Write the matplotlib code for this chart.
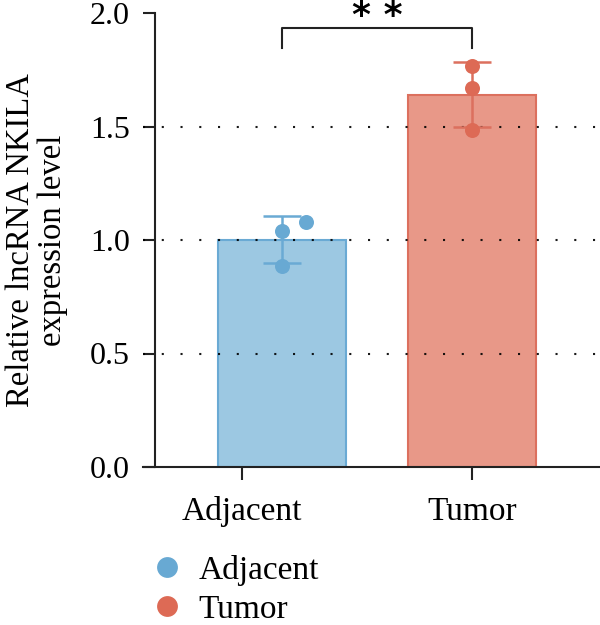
import matplotlib
matplotlib.use("Agg")
import matplotlib.pyplot as plt
from matplotlib.lines import Line2D
import numpy as np

categories = ["Adjacent", "Tumor"]
adjacent_points = [1.08, 1.04, 0.885]
tumor_points = [1.767, 1.67, 1.485]
means = [np.mean(adjacent_points), np.mean(tumor_points)]
sds = [np.std(adjacent_points, ddof=1), np.std(tumor_points, ddof=1)]
yticks = [0.0, 0.5, 1.0, 1.5, 2.0]
ylabel = "Relative lncRNA NKILA\nexpression level"
sig_label = "* *"

fills = ["#9cc8e2", "#e89888"]
edges = ["#6aaad4", "#dc705e"]
pts_colors = ["#68a9d3", "#dd6a55"]

plt.rcParams["font.family"] = ["Liberation Serif", "DejaVu Serif"]

fig = plt.figure(figsize=(6, 6.25), dpi=100)
ax = fig.add_axes([0.238, 0.2528, 0.762, 0.7264])

x = np.arange(len(categories))
ax.bar(x, means, width=0.674, color=fills, edgecolor=edges, linewidth=1.5, zorder=2)
for i, (m, s) in enumerate(zip(means, sds)):
    ax.errorbar(x[i], m, yerr=s, color=edges[i], lw=1.8, capsize=13.5, capthick=1.8, zorder=3)
pts = [adjacent_points, tumor_points]
offsets = [[0.125, 0, 0], [0, 0, 0]]
for i, p in enumerate(pts):
    ax.plot(np.array(offsets[i]) + x[i], p, "o", color=pts_colors[i], ms=10.8, mec="none", zorder=4)

for yv in yticks[1:-1]:
    ax.axhline(yv, color="black", lw=1.5, ls=(0, (1, 8)), zorder=2.5, alpha=0.9)

ax.set_ylim(0, 2.0)
ax.set_xlim(-0.7316, 1.674)
ax.set_yticks(yticks)
ax.set_yticklabels([f"{v:.1f}" for v in yticks])
ax.set_xticks([x[0] - 0.21, x[1]])
ax.set_xticklabels(categories)
ax.spines["top"].set_visible(False)
ax.spines["right"].set_visible(False)
ax.spines["left"].set_position(("data", -0.668))
for sp in ["left", "bottom"]:
    ax.spines[sp].set_linewidth(1.5)
    ax.spines[sp].set_color("#222222")
ax.tick_params(axis="both", length=9, width=1.5, color="#222222")
ax.tick_params(axis="y", pad=9, labelsize=23)
ax.tick_params(axis="x", pad=12, labelsize=24)
ax.set_ylabel(ylabel, fontsize=23.5, labelpad=16, linespacing=1.05)

# significance bracket
ax.plot([x[0], x[0], x[1], x[1]], [1.846, 1.934, 1.934, 1.846], color="#222222", lw=1.5, clip_on=False)
ax.text((x[0] + x[1]) / 2, 1.985, sig_label, ha="center", va="center", fontsize=26,
        fontweight="bold", family="DejaVu Sans", clip_on=False)

handles = [Line2D([], [], marker="o", ls="none", color=pts_colors[i], ms=15, mec="none", label=categories[i]) for i in range(2)]
fig.legend(handles=handles, loc="upper left", bbox_to_anchor=(0.223, 0.134), frameon=False,
           fontsize=24, handletextpad=0.35, labelspacing=0.27, borderaxespad=0, handlelength=1.2)

fig.savefig("out.png", dpi=100)
